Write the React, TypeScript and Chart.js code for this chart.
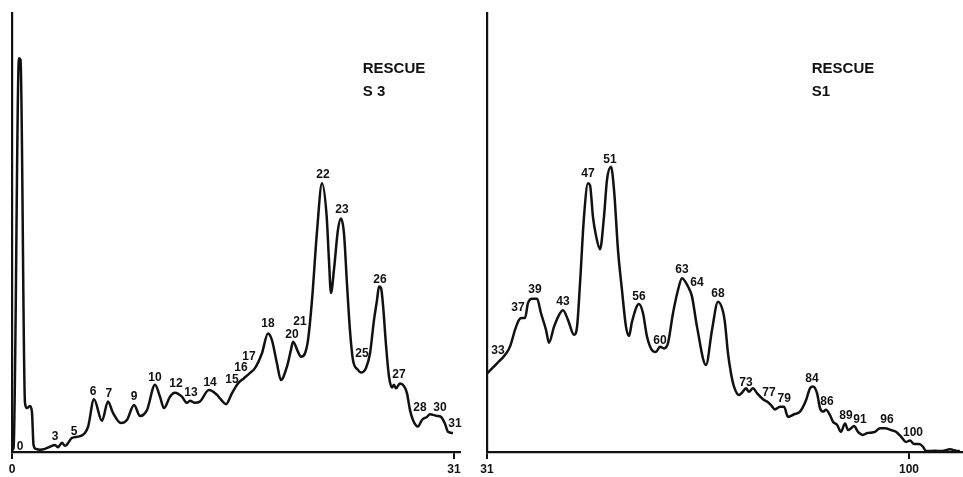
import React, { useEffect, useRef } from "react";
import { Chart, registerables } from "chart.js";

Chart.register(...registerables);

// ---------- DATA ----------
const leftTicks = [0, 31];
const rightTicks = [31, 100];

const leftFraction = [
  0.0, 0.11, 0.49, 0.6, 0.91, 1.05, 1.26, 1.4, 1.51, 1.68, 1.96, 2.31, 2.66, 3.02, 3.23, 3.51, 3.72,
  4.21, 4.77, 5.33, 5.75, 6.31, 6.73, 7.08, 7.64, 8.06, 8.56, 8.98, 9.47, 10.03, 10.38, 10.66, 11.08,
  11.43, 11.92, 12.27, 12.48, 12.83, 13.18, 13.81, 14.38, 14.59, 15.01, 15.43, 15.85, 16.27, 16.62,
  17.04, 17.53, 17.95, 18.23, 18.58, 18.86, 19.28, 19.56, 19.71, 20.06, 20.27, 20.55, 20.76, 21.04,
  21.4, 21.74, 22.07, 22.23, 22.37, 22.58, 22.86, 23.07, 23.28, 23.49, 23.7, 23.91, 24.26, 24.47,
  24.82, 25.11, 25.39, 25.6, 25.74, 25.88, 26.02, 26.23, 26.44, 26.65, 26.79, 26.93, 27.21, 27.49,
  27.7, 27.91, 28.12, 28.47, 28.75, 29.1, 29.31, 29.8, 30.08, 30.36, 30.58, 30.93,
];
const leftSignal = [
  0.5, 0.9, 89.7, 89.3, 11.2, 10.0, 10.5, 9.1, 1.6, 0.7, 0.5, 0.7, 1.2, 1.6, 1.1, 2.1, 1.4,
  3.2, 3.6, 5.7, 12.0, 7.1, 11.5, 8.9, 6.6, 7.3, 10.7, 8.2, 9.6, 15.3, 12.6, 10.0, 12.6,
  13.5, 12.6, 11.2, 11.7, 11.2, 11.5, 14.1, 13.0, 12.2, 10.9, 13.4, 15.6, 16.8, 17.8,
  19.1, 22.5, 27.0, 25.5, 20.2, 16.4, 19.4, 23.2, 25.1, 22.8, 21.7, 22.5, 25.5, 34.6,
  50.6, 61.2, 53.6, 43.7, 36.2, 41.5, 50.6, 53.2, 49.9, 38.5, 27.8, 21.0, 18.7, 18.1,
  19.1, 22.5, 30.1, 34.6, 37.7, 37.4, 33.5, 24.4, 17.2, 14.7, 15.3, 14.5, 15.6, 15.0,
  13.4, 9.6, 7.3, 5.8, 7.3, 8.0, 8.6, 8.2, 8.0, 6.5, 4.6, 4.3,
];

const rightFraction = [
  31.0, 32.64, 33.94, 34.76, 35.58, 36.23, 36.72, 37.21, 37.7, 38.36, 39.18, 39.83, 40.65, 41.14,
  41.95, 42.77, 43.43, 44.24, 45.23, 45.72, 46.21, 46.86, 47.51, 47.84, 48.33, 48.82, 49.48, 50.13,
  50.62, 51.27, 51.77, 52.42, 53.07, 53.73, 54.22, 54.71, 55.85, 56.51, 57.16, 57.98, 58.63, 59.29,
  59.94, 60.59, 61.41, 62.23, 62.88, 63.86, 64.52, 65.34, 66.81, 67.79, 68.77, 69.59, 69.91, 70.4,
  70.9, 71.39, 72.2, 72.69, 73.35, 73.84, 74.49, 75.15, 76.13, 76.78, 77.44, 78.09, 78.91, 79.56,
  80.22, 81.2, 82.18, 83.16, 83.81, 84.3, 84.96, 85.45, 85.94, 86.43, 87.08, 87.57, 88.23, 88.88,
  89.54, 90.03, 90.52, 91.01, 91.66, 92.48, 93.13, 93.79, 94.44, 95.26, 96.08, 97.06, 97.87, 98.69,
  99.51, 100.16, 100.82, 101.64, 102.29, 102.78, 104.25, 105.4, 106.7, 107.68, 108.34,
];
const rightSignal = [
  17.9, 20.2, 22.1, 24.0, 27.8, 30.1, 30.5, 30.5, 33.9, 34.9, 34.9, 31.6, 27.8, 24.9,
  28.5, 31.2, 32.3, 30.1, 26.7, 28.5, 38.4, 53.6, 61.2, 60.8, 53.5, 49.3, 46.2, 53.6,
  62.0, 65.0, 59.7, 46.0, 36.9, 28.5, 26.4, 29.7, 33.7, 31.6, 26.3, 23.2, 22.8, 24.0,
  23.6, 24.8, 31.6, 36.9, 39.6, 37.7, 35.4, 28.5, 19.8, 27.8, 34.2, 32.0, 29.4, 22.5,
  17.9, 14.9, 13.0, 13.5, 14.5, 13.7, 14.5, 13.4, 12.0, 11.5, 10.7, 9.7, 10.3, 10.3,
  8.0, 8.6, 9.2, 11.8, 14.5, 14.9, 13.4, 10.0, 9.2, 9.6, 8.4, 6.9, 6.2, 4.6,
  6.5, 5.0, 5.4, 5.9, 4.6, 3.9, 4.3, 4.4, 4.6, 5.4, 5.4, 5.0, 4.6, 3.5,
  2.3, 2.6, 1.8, 1.8, 1.2, 0.2, 0.3, 0.2, 0.6, 0.3, 0.2,
];

const leftPeakText = ["0", "3", "5", "6", "7", "9", "10", "12", "13", "14", "15", "16", "17", "18", "20", "21", "22", "23", "25", "26", "27", "28", "30", "31"];
const leftPeakX = [0.56, 3.02, 4.35, 5.68, 6.8, 8.56, 10.03, 11.5, 12.55, 13.89, 15.43, 16.06, 16.62, 17.95, 19.64, 20.2, 21.81, 23.14, 24.54, 25.81, 27.14, 28.61, 30.01, 31.07];
const leftPeakY = [1.1, 3.4, 4.6, 13.7, 13.2, 12.5, 16.9, 15.5, 13.4, 15.7, 16.4, 19.1, 21.6, 29.2, 26.7, 29.6, 63.1, 55.1, 22.3, 39.2, 17.5, 10.0, 10.0, 6.4];

const rightPeakText = ["33", "37", "39", "43", "47", "51", "56", "60", "63", "64", "68", "73", "77", "79", "84", "86", "89", "91", "96", "100"];
const rightPeakX = [32.8, 36.07, 38.85, 43.43, 47.51, 51.11, 55.85, 59.29, 62.88, 65.34, 68.77, 73.35, 77.11, 79.59, 84.14, 86.59, 89.7, 91.99, 96.4, 100.65];
const rightPeakY = [23.0, 32.8, 36.9, 34.2, 63.3, 66.5, 35.3, 25.3, 41.5, 38.5, 36.0, 15.7, 13.4, 12.1, 16.6, 11.4, 8.2, 7.3, 7.3, 4.3];

const leftTitle = ["RESCUE", "S 3"];
const rightTitle = ["RESCUE", "S1"];
const leftTitleX = 24.6;
const rightTitleX = 84.1;
const titleLineY = [87.3, 82.0];

// ---------- STYLE ----------
const INK = "#111111";
const FONT = "'Liberation Sans', Arial, sans-serif";
const H = 477;

type PanelProps = {
  left: number;
  width: number;
  padLeft: number;
  padRight: number;
  xMin: number;
  xMax: number;
  ticks: number[];
  fractions: number[];
  signal: number[];
  peakText: string[];
  peakX: number[];
  peakY: number[];
  title: string[];
  titleX: number;
};

function Panel(p: PanelProps) {
  const ref = useRef<HTMLCanvasElement | null>(null);
  useEffect(() => {
    if (!ref.current) return;
    const labelPlugin = {
      id: "peakLabels",
      afterDatasetsDraw(chart: any) {
        const { ctx } = chart;
        const xs = chart.scales.x;
        const ys = chart.scales.y;
        ctx.save();
        ctx.fillStyle = INK;
        ctx.font = `bold 12px ${FONT}`;
        ctx.textAlign = "center";
        ctx.textBaseline = "middle";
        p.peakText.forEach((t, i) => {
          ctx.fillText(t, xs.getPixelForValue(p.peakX[i]), ys.getPixelForValue(p.peakY[i]));
        });
        ctx.font = `bold 15px ${FONT}`;
        ctx.textAlign = "left";
        p.title.forEach((t, i) => {
          ctx.fillText(t, xs.getPixelForValue(p.titleX), ys.getPixelForValue(titleLineY[i]));
        });
        ctx.restore();
      },
    };
    const chart = new Chart(ref.current, {
      type: "line",
      data: {
        datasets: [
          {
            data: p.fractions.map((x, i) => ({ x, y: p.signal[i] })),
            borderColor: INK,
            borderWidth: 2.5,
            pointRadius: 0,
            fill: false,
            cubicInterpolationMode: "monotone",
            clip: 6,
          } as any,
        ],
      },
      options: {
        animation: false,
        responsive: false,
        maintainAspectRatio: false,
        events: [],
        layout: { padding: { left: p.padLeft, right: p.padRight, top: 13, bottom: 0 } },
        plugins: { legend: { display: false }, tooltip: { enabled: false }, title: { display: false } },
        scales: {
          x: {
            type: "linear",
            min: p.xMin,
            max: p.xMax,
            afterBuildTicks: (s: any) => {
              s.ticks = p.ticks.map((v) => ({ value: v }));
            },
            afterFit: (s: any) => {
              s.height = 25;
            },
            grid: {
              display: true,
              drawOnChartArea: false,
              drawTicks: true,
              tickLength: 7,
              color: INK,
              lineWidth: 2,
            },
            border: { display: true, color: INK, width: 2.2 },
            ticks: {
              color: INK,
              font: { family: FONT, size: 12, weight: "bold" },
              padding: 3,
              autoSkip: false,
              maxRotation: 0,
              callback: (v: any) => String(v),
            },
          },
          y: {
            type: "linear",
            min: 0,
            max: 100,
            afterFit: (s: any) => {
              s.width = 0;
            },
            grid: { display: false, drawTicks: false },
            border: { display: true, color: INK, width: 2.2 },
            ticks: { display: false },
          },
        },
      } as any,
      plugins: [labelPlugin],
    });
    return () => chart.destroy();
  }, []);
  return (
    <canvas
      ref={ref}
      width={p.width}
      height={H}
      style={{ position: "absolute", left: p.left, top: 0, width: p.width, height: H }}
    />
  );
}

export default function App() {
  return (
    <div
      style={{
        position: "fixed",
        left: 0,
        top: 0,
        width: 963,
        height: H,
        background: "#fff",
        overflow: "hidden",
      }}
    >
      <Panel
        left={0}
        width={475}
        padLeft={12}
        padRight={15}
        xMin={0}
        xMax={31.42}
        ticks={leftTicks}
        fractions={leftFraction}
        signal={leftSignal}
        peakText={leftPeakText}
        peakX={leftPeakX}
        peakY={leftPeakY}
        title={leftTitle}
        titleX={leftTitleX}
      />
      <Panel
        left={475}
        width={488}
        padLeft={12}
        padRight={0}
        xMin={31}
        xMax={108.83}
        ticks={rightTicks}
        fractions={rightFraction}
        signal={rightSignal}
        peakText={rightPeakText}
        peakX={rightPeakX}
        peakY={rightPeakY}
        title={rightTitle}
        titleX={rightTitleX}
      />
    </div>
  );
}
